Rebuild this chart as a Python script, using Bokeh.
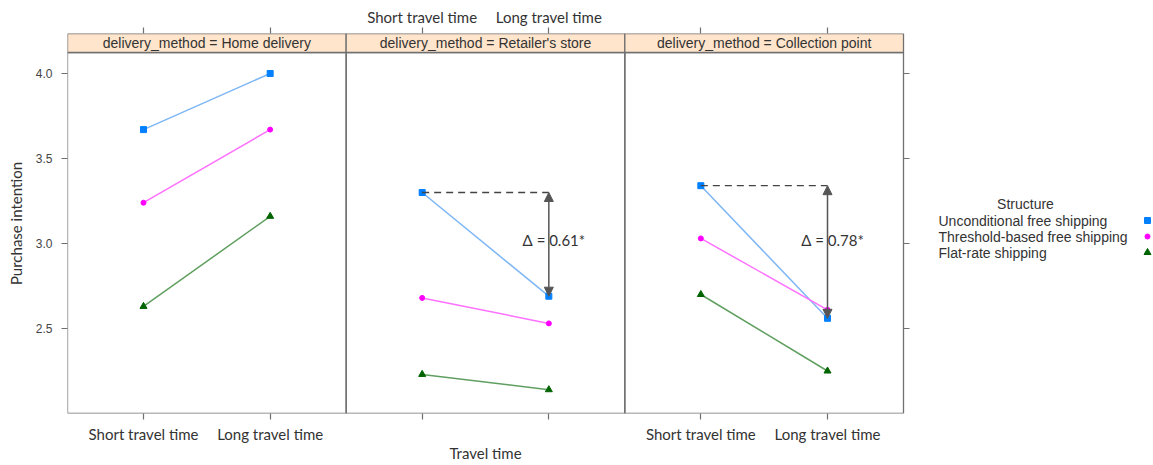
from bokeh.plotting import figure
from bokeh.models import (Range1d, FixedTicker, LinearAxis, Arrow, NormalHead,
                          CustomJSTickFormatter)
from bokeh.embed import file_html
from bokeh.resources import INLINE
from bokeh.core.properties import value

# ---------------- data ----------------
panels = ["Home delivery", "Retailer's store", "Collection point"]
travel = ["Short travel time", "Long travel time"]
series = ["Unconditional free shipping", "Threshold-based free shipping", "Flat-rate shipping"]
uncond = [[3.67, 4.00], [3.30, 2.69], [3.34, 2.56]]
thresh = [[3.24, 3.67], [2.68, 2.53], [3.03, 2.61]]
flat = [[2.63, 3.16], [2.23, 2.14], [2.70, 2.25]]
delta_labels = ["", "\u0394 = 0.61*", "\u0394 = 0.78*"]
y_ticks = [2.5, 3.0, 3.5, 4.0]
y_tick_labels = ["2.5", "3.0", "3.5", "4.0"]
bottom_label_panels = [0, 2]
top_label_panels = [1]
x_title = "Travel time"
y_title = "Purchase intention"
legend_title = "Structure"

# ---------------- styles / layout ----------------
point_colors = ["#0080ff", "#ff00ff", "#006400"]
line_colors = ["#7db6f5", "#ff70ff", "#5f9f5f"]
markers = ["square", "circle", "triangle"]
marker_sizes = [6, 5, 7]
strip_fill = "#ffe5cc"
border_col = "#707070"
PW = 2.2                  # data width of one panel
PXU = 836 / (3 * PW)      # pixels per x unit
PYU = 170.0               # pixels per y unit
Y0 = 2.0
Y1 = Y0 + 380 / PYU
STRIP_B = Y0 + 361 / PYU
W, H = 1153, 465
ML, MT, MB = 67, 33, 52
XMAX = (W - ML) / PXU
label_font = "Lato"
arial = "Liberation Sans"

def xpos(i, j):
    return round(PW * i + 0.6 + j, 6)

def px_x(page_x):   # page pixel -> data x (annotation placement)
    return (page_x - ML) / PXU

def px_y(page_y):   # page pixel -> data y
    return Y0 + (413 - page_y) / PYU

all_ticks = [xpos(i, j) for i in range(3) for j in range(2)]
bottom_vals = [xpos(i, j) for i in bottom_label_panels for j in range(2)]
bottom_txt = [travel[j] for i in bottom_label_panels for j in range(2)]
top_vals = [xpos(i, j) for i in top_label_panels for j in range(2)]
top_txt = [travel[j] for i in top_label_panels for j in range(2)]
x_title_pos = round(3 * PW / 2, 6)

p = figure(width=W, height=H, x_range=Range1d(0, XMAX), y_range=Range1d(Y0, Y1),
           output_backend="svg", toolbar_location=None,
           min_border_left=ML, min_border_right=0, min_border_top=MT, min_border_bottom=MB)
p.xgrid.visible = False
p.ygrid.visible = False
p.outline_line_color = None
p.background_fill_color = "white"

fmt_js = """
for (let k = 0; k < ks.length; k++) { if (Math.abs(tick - ks[k]) < 1e-6) return vs[k]; }
return "";
"""

xa = p.xaxis[0]
xa.ticker = FixedTicker(ticks=all_ticks)
xa.formatter = CustomJSTickFormatter(args=dict(ks=bottom_vals, vs=bottom_txt), code=fmt_js)

# second bottom axis carrying the x title, centred under the three panels
xtitle_ax = LinearAxis(ticker=FixedTicker(ticks=[x_title_pos]),
                       formatter=CustomJSTickFormatter(args=dict(ks=[x_title_pos], vs=[x_title]),
                                                       code=fmt_js))
p.add_layout(xtitle_ax, "below")

xt = LinearAxis(ticker=FixedTicker(ticks=all_ticks),
                formatter=CustomJSTickFormatter(args=dict(ks=top_vals, vs=top_txt), code=fmt_js))
p.add_layout(xt, "above")

ya = p.yaxis[0]
ya.ticker = FixedTicker(ticks=y_ticks)
ya.formatter = CustomJSTickFormatter(args=dict(ks=y_ticks, vs=y_tick_labels), code=fmt_js)
ya.axis_label = y_title

for ax in [xa, xt, ya, xtitle_ax]:
    ax.axis_line_color = None
    ax.major_tick_in = 0
    ax.major_tick_out = 6
    ax.major_tick_line_color = border_col
    ax.major_tick_line_width = 1.2
    ax.minor_tick_line_color = None
    ax.major_label_text_color = "#333333"
    ax.axis_label_text_color = "#333333"
    ax.axis_label_text_font = label_font
    ax.axis_label_text_font_size = "15px"
    ax.axis_label_text_font_style = "normal"
for ax in [xa, xt, xtitle_ax]:
    ax.major_label_text_font = label_font
    ax.major_label_text_font_size = "15px"
xtitle_ax.major_tick_out = 0
xtitle_ax.major_tick_line_color = None
xtitle_ax.major_label_standoff = -2
xa.major_label_standoff = 5
xt.major_label_standoff = 2
ya.major_label_text_font = arial
ya.major_label_text_font_size = "12px"
ya.major_label_text_color = "#444444"
ya.major_label_standoff = 9
ya.axis_label_standoff = 8

# panel frames and strips
p.quad(left=[PW * i for i in range(3)], right=[PW * (i + 1) for i in range(3)],
       bottom=Y0, top=STRIP_B, fill_color=None, line_color=border_col, line_width=1.3)
p.quad(left=[PW * i for i in range(3)], right=[PW * (i + 1) for i in range(3)],
       bottom=STRIP_B, top=Y1, fill_color=strip_fill, line_color=border_col, line_width=1.3)
p.text(x=[PW * i + PW / 2 for i in range(3)], y=[(STRIP_B + Y1) / 2] * 3,
       text=["delivery_method = " + s for s in panels],
       text_font=value(arial), text_font_size="14px", text_color="#333333",
       text_align="center", text_baseline="middle")

# right-side ticks of the last panel
tick_len = 6 / PXU
p.segment(x0=[3 * PW] * len(y_ticks), x1=[3 * PW + tick_len] * len(y_ticks),
          y0=y_ticks, y1=y_ticks, line_color=border_col, line_width=1.2)

# data
all_series = [uncond, thresh, flat]
for i in range(3):
    xs = [xpos(i, 0), xpos(i, 1)]
    for s, vals in enumerate(all_series):
        p.line(xs, vals[i], line_color=line_colors[s], line_width=1.5)
    for s, vals in enumerate(all_series):
        p.scatter(xs, vals[i], marker=markers[s], size=marker_sizes[s],
                  fill_color=point_colors[s], line_color=point_colors[s])

# delta annotations
for i in range(3):
    if not delta_labels[i]:
        continue
    xs0, xs1 = xpos(i, 0), xpos(i, 1)
    u0, u1 = uncond[i]
    p.line([xs0, xs1], [u0, u0], line_color="#444444", line_dash="7 5", line_width=1.3)
    p.add_layout(Arrow(start=NormalHead(size=9, fill_color="#555555", line_color="#555555"),
                       end=NormalHead(size=9, fill_color="#555555", line_color="#555555"),
                       x_start=xs1, y_start=u0, x_end=xs1, y_end=u1,
                       line_color="#555555", line_width=1.5))
    p.text(x=[xs1 + 0.04], y=[px_y(239)], text=[delta_labels[i]],
           text_font=value(label_font), text_font_size="15px", text_color="#333333",
           text_align="center", text_baseline="middle")

# ---------------- legend ----------------
p.text(x=[px_x(1025)], y=[px_y(203)], text=[legend_title], text_font=value(arial),
       text_font_size="14px", text_color="#333333", text_align="center", text_baseline="middle")
ly = [px_y(220), px_y(236), px_y(252)]
p.text(x=[px_x(938)] * 3, y=ly, text=series, text_font=value(arial), text_font_size="14px",
       text_color="#333333", text_align="left", text_baseline="middle")
for s in range(3):
    p.scatter([px_x(1147)], [ly[s]], marker=markers[s], size=marker_sizes[s],
              fill_color=point_colors[s], line_color=point_colors[s])

open("out.html", "w").write(file_html(p, INLINE))
